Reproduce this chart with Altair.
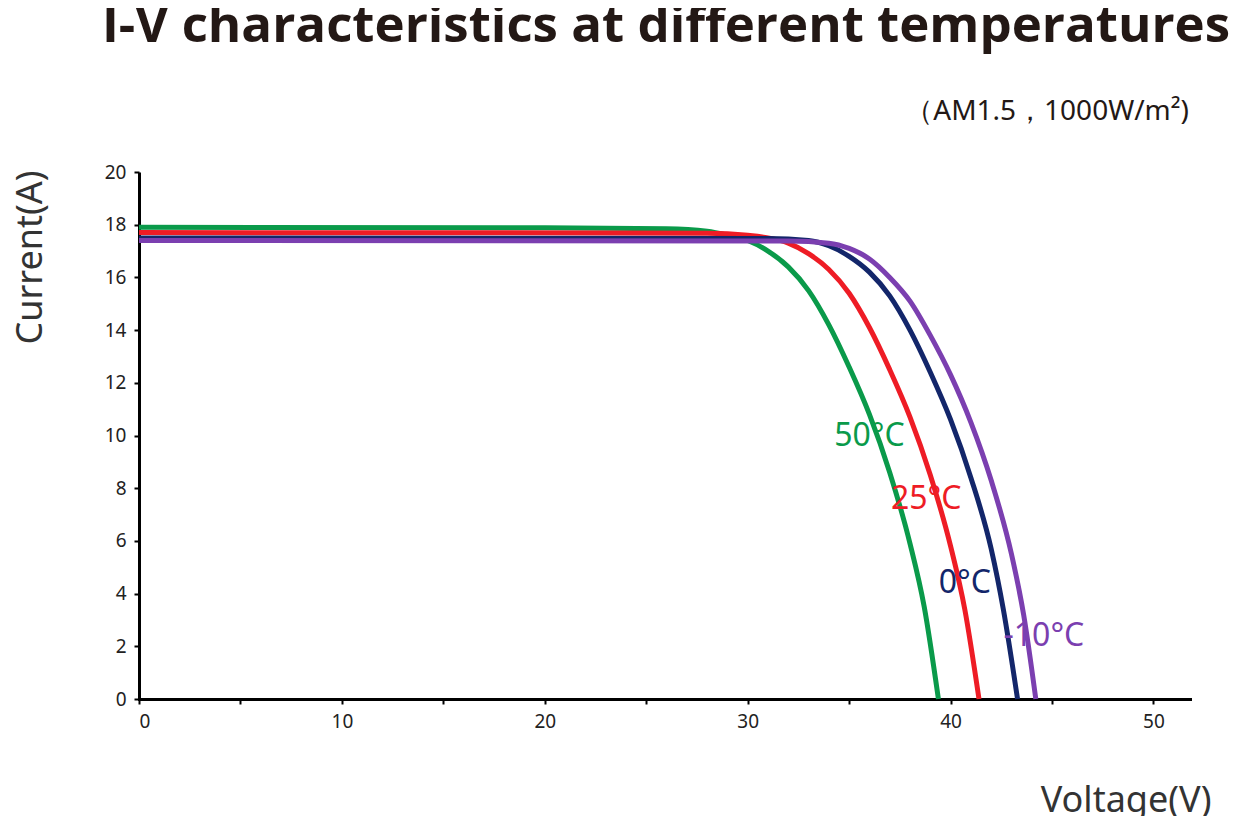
import altair as alt
import pandas as pd

series = {
    "50°C": [(0,17.9),(20,17.88),(26,17.85),(28,17.75),(29,17.6),(30,17.4),(31,17.0),(32,16.4),(33,15.5),(34,14.2),(35,12.6),(36,10.8),(37,8.6),(38,5.9),(38.7,3.5),(39.4,0)],
    "25°C": [(0,17.7),(28,17.68),(30,17.6),(31,17.5),(32,17.3),(33,16.9),(34,16.3),(35,15.4),(36,14.1),(37,12.5),(38,10.7),(39,8.5),(40,5.8),(40.7,3.4),(41.4,0)],
    "0°C": [(0,17.5),(31,17.48),(33,17.4),(34,17.2),(35,16.8),(36,16.2),(37,15.3),(38,14.0),(39,12.4),(40,10.6),(41,8.4),(42,5.7),(42.6,3.4),(43.3,0)],
    "-10°C": [(0,17.4),(32,17.38),(34,17.3),(35,17.1),(36,16.7),(37,16.0),(38,15.1),(39,13.8),(40,12.3),(41,10.5),(42,8.3),(43,5.5),(43.6,3.2),(44.2,0)],
}
colors = {"50°C": "#0a9a4a", "25°C": "#ee1c25", "0°C": "#13266a", "-10°C": "#7b3fb0"}
label_pos = {"50°C": (36.0, 10), "25°C": (38.8, 7.6), "0°C": (40.7, 4.4), "-10°C": (44.6, 2.4)}
label_color = {"50°C": "#0a9a4a", "25°C": "#dd1c2a", "0°C": "#1d2a78", "-10°C": "#8e4a9c"}

rows = []
for k, pts in series.items():
    for i, (v, c) in enumerate(pts):
        rows.append({"series": k, "V": v, "I": c, "o": i})
df = pd.DataFrame(rows)
lab = pd.DataFrame([{"series": k, "V": p[0], "I": p[1]} for k, p in label_pos.items()])

order = list(series.keys())
cscale = alt.Scale(domain=order, range=[colors[k] for k in order])
lscale = alt.Scale(domain=order, range=[label_color[k] for k in order])

x = alt.X("V:Q", scale=alt.Scale(domain=[0, 51.8], nice=False),
          axis=alt.Axis(values=list(range(0, 51, 5)), labelExpr="datum.value % 10 == 0 ? datum.value : ''",
                        title="Voltage(V)", titleFontSize=36, titleFontWeight="normal", titleColor="#333",
                        titleX=1072, titleY=84, titleAnchor="end", titleAlign="right",
                        titleBaseline="top"))
y = alt.Y("I:Q", scale=alt.Scale(domain=[0, 20], nice=False),
          axis=alt.Axis(values=list(range(0, 21, 2)), title="Current(A)", titleFontSize=36,
                        titleFontWeight="normal", titleColor="#333", titleX=-90, titleY=85))

lines = alt.Chart(df).mark_line(strokeWidth=5, interpolate="monotone").encode(
    x=x, y=y, order="o:Q", color=alt.Color("series:N", scale=cscale, legend=None))
texts = alt.Chart(lab).mark_text(fontSize=32, align="center", font="Noto Sans").encode(
    x="V:Q", y="I:Q", text="series:N", color=alt.Color("series:N", scale=lscale, legend=None))
title = alt.Chart(pd.DataFrame({"t": ["I-V characteristics at different temperatures"]})).mark_text(
    fontSize=51, fontWeight="bold", font="Open Sans", color="#231815", align="center", baseline="alphabetic").encode(
    text="t:N", x=alt.value(527), y=alt.value(-130))
sub = alt.Chart(pd.DataFrame({"t": ["（AM1.5，1000W/m²)"]})).mark_text(
    fontSize=28, font="Noto Sans", color="#231815", align="right").encode(
    text="t:N", x=alt.value(1050), y=alt.value(-60))

chart = alt.layer(lines, texts, title, sub).properties(
    width=1051, height=527, autosize="none",
    padding={"left": 131, "top": 164, "right": 44, "bottom": 117}
).configure_view(stroke=None).configure_axis(
    grid=False, domainColor="black", domainWidth=3, tickColor="black", tickWidth=2, tickSize=5,
    labelFontSize=19, labelColor="#222", labelFont="Noto Sans", titleFont="Noto Sans", labelPadding=8
).configure_axisX(domainCap="square")

chart.save("out.html", embed_options={"renderer": "svg", "actions": False})
